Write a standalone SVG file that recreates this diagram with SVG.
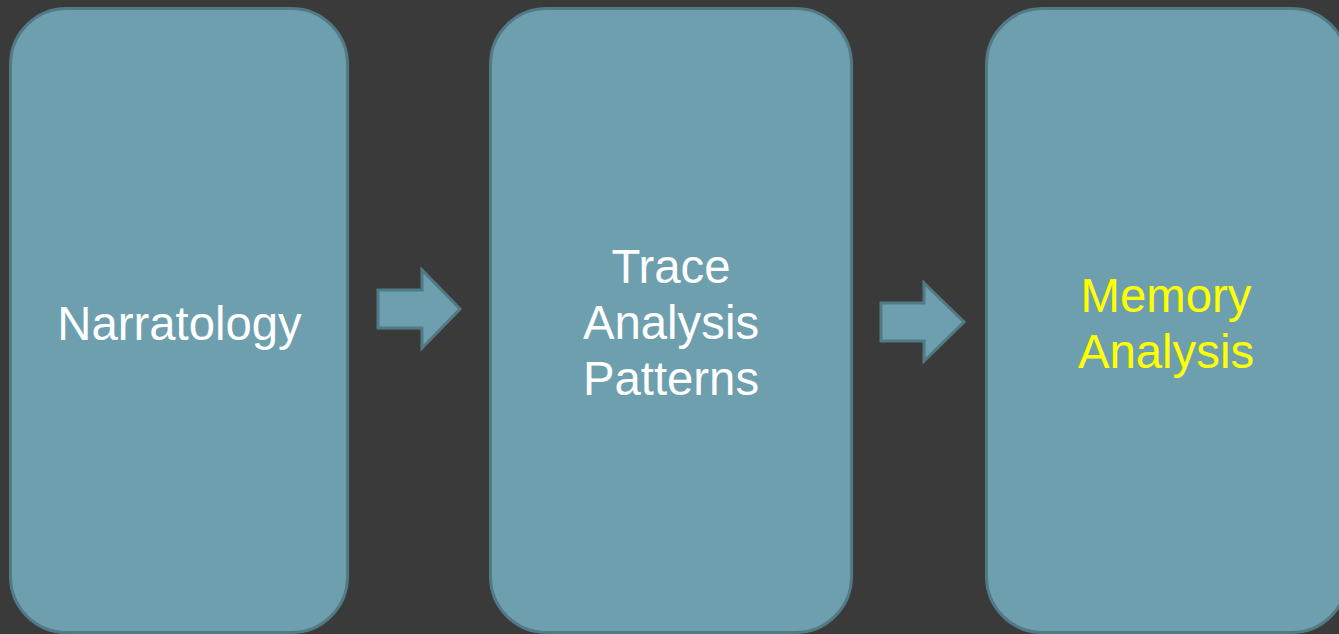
<svg xmlns="http://www.w3.org/2000/svg" width="1339" height="634" viewBox="0 0 1339 634">
<style>
.box{fill:#6d9fae;stroke:#527a85;stroke-width:3}
.arr{fill:#6d9fae;stroke:#527a85;stroke-width:3;stroke-linejoin:miter}
.t{font-family:"Liberation Sans",Arial,sans-serif;font-size:47.3px;text-anchor:middle;fill:#ffffff}
.y{fill:#ffff00}
</style>
<rect x="0" y="0" width="1339" height="634" fill="#3a3a3a"/>
<g id="node-narratology">
<rect class="box" x="10.5" y="8.5" width="337" height="624" rx="56" ry="56"/>
<text class="t" x="179.5" y="340">Narratology</text>
</g>
<g id="node-trace">
<rect class="box" x="490.5" y="8.5" width="361" height="624" rx="56" ry="56"/>
<text class="t" x="671" y="283">Trace</text>
<text class="t" x="671" y="339">Analysis</text>
<text class="t" x="671" y="395">Patterns</text>
</g>
<g id="node-memory">
<rect class="box" x="986.5" y="8.5" width="361" height="624" rx="56" ry="56"/>
<text class="t y" x="1166" y="312">Memory</text>
<text class="t y" x="1166" y="368">Analysis</text>
</g>
<g id="connectors">
<polygon class="arr" points="378,290 422,290 422,270 460,309 422,348 422,328 378,328"/>
<polygon class="arr" points="881,303 924,303 924,283 964,322 924,361 924,341 881,341"/>
</g>
</svg>
